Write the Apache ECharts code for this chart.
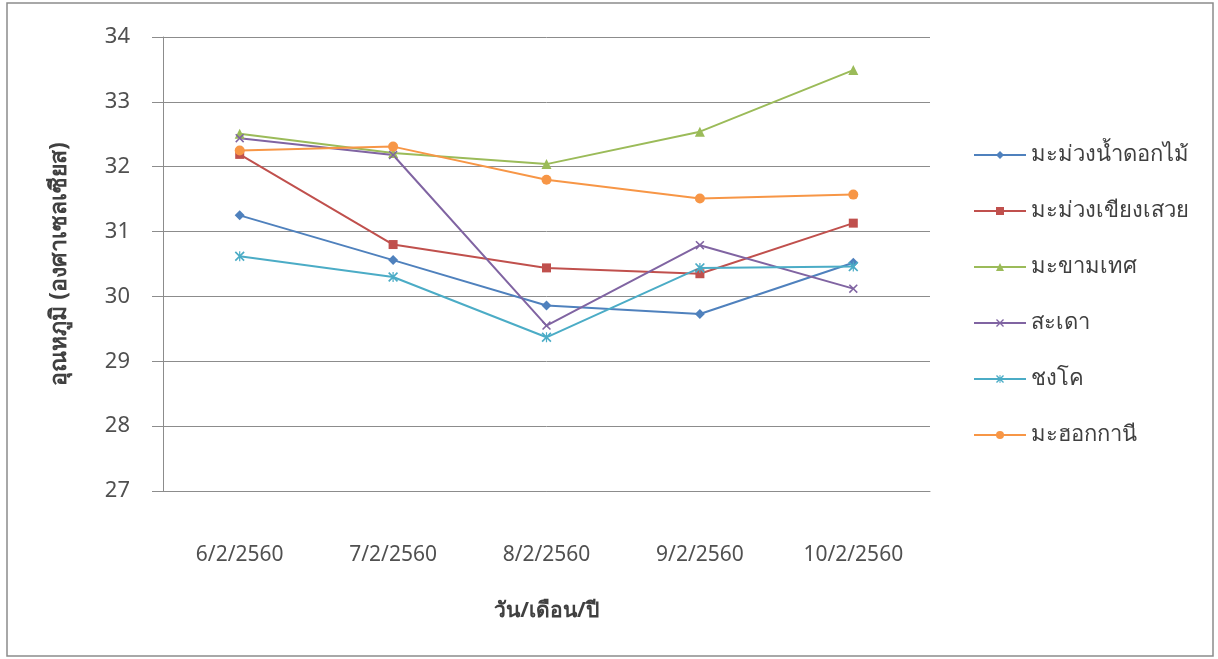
<!DOCTYPE html>
<html><head><meta charset="utf-8">
<script src="https://cdn.jsdelivr.net/npm/echarts@6/dist/echarts.min.js"></script>
<style>html,body{margin:0;padding:0;background:#fff}#c{width:1218px;height:659px}</style>
</head><body><div id="c"></div>
<script>
const categories = ['6/2/2560','7/2/2560','8/2/2560','9/2/2560','10/2/2560'];
const seriesNames = ['มะม่วงน้ำดอกไม้','มะม่วงเขียงเสวย','มะขามเทศ','สะเดา','ชงโค','มะฮอกกานี'];
const namDokMai = [31.25, 30.56, 29.86, 29.73, 30.52];
const khiaoSawoei = [32.19, 30.80, 30.44, 30.35, 31.13];
const makhamThet = [32.51, 32.21, 32.04, 32.54, 33.49];
const sadao = [32.44, 32.18, 29.55, 30.79, 30.12];
const chongkho = [30.62, 30.30, 29.37, 30.44, 30.46];
const mahogany = [32.25, 32.31, 31.80, 31.51, 31.57];
const yTicks = [27, 28, 29, 30, 31, 32, 33, 34];

const values = [namDokMai, khiaoSawoei, makhamThet, sadao, chongkho, mahogany];
const colors = ['#4F81BD','#C0504D','#9BBB59','#8064A2','#4BACC6','#F79646'];
const xPath = 'path://M0,1.2L1.2,0L5,3.8L8.8,0L10,1.2L6.2,5L10,8.8L8.8,10L5,6.2L1.2,10L0,8.8L3.8,5Z';
const starPath = 'path://M0,1.2L1.2,0L4.4,3.2L4.4,0L5.6,0L5.6,3.2L8.8,0L10,1.2L6.2,5L10,8.8L8.8,10L5.6,6.8L5.6,10L4.4,10L4.4,6.8L1.2,10L0,8.8L3.8,5Z';
const symbols = ['diamond','rect','triangle', xPath, starPath,'circle'];
const sizes = [10, 9, 10, 9, 10, 10];
const font = '"Noto Sans", "DejaVu Sans", sans-serif';

const chart = echarts.init(document.getElementById('c'));
chart.setOption({
  backgroundColor: '#fff',
  animation: false,
  graphic: [{type:'rect', shape:{x:7,y:3,width:1206,height:653}, style:{fill:'none', stroke:'#8c8c8c', lineWidth:1.5}, silent:true}],
  grid: {left:163, right:288, top:37, bottom:168},
  legend: {
    orient:'vertical', left:973, top:144, padding:0, itemGap:34, itemWidth:52, itemHeight:10,
    data: seriesNames,
    textStyle:{fontSize:22, color:'#404040', fontFamily:font}
  },
  xAxis: {
    type:'category', data:categories, boundaryGap:true,
    axisLine:{lineStyle:{color:'#8c8c8c'}}, axisTick:{show:false},
    axisLabel:{margin:54, fontSize:21, color:'#505050', fontFamily:font},
    name:'วัน/เดือน/ปี', nameLocation:'middle', nameGap:110,
    nameTextStyle:{fontSize:21, fontWeight:'bold', color:'#404040', fontFamily:font}
  },
  yAxis: {
    type:'value', min:yTicks[0], max:yTicks[yTicks.length-1], interval:1,
    axisLine:{show:true, lineStyle:{color:'#8c8c8c'}},
    axisTick:{show:true, length:11, lineStyle:{color:'#8c8c8c'}},
    splitLine:{lineStyle:{color:'#8c8c8c', width:1}},
    axisLabel:{margin:33, fontSize:22, color:'#505050', fontFamily:font},
    name:'อุณหภูมิ (องศาเซลเซียส)', nameLocation:'middle', nameGap:92, nameRotate:90,
    nameTextStyle:{fontSize:23, fontWeight:'bold', color:'#404040', fontFamily:font}
  },
  series: seriesNames.map((n,i)=>({
    name:n, type:'line', data:values[i], symbol:symbols[i], symbolSize:sizes[i],
    showAllSymbol:true,
    lineStyle:{color:colors[i], width:2}, itemStyle:{color:colors[i]}
  }))
});
</script></body></html>
